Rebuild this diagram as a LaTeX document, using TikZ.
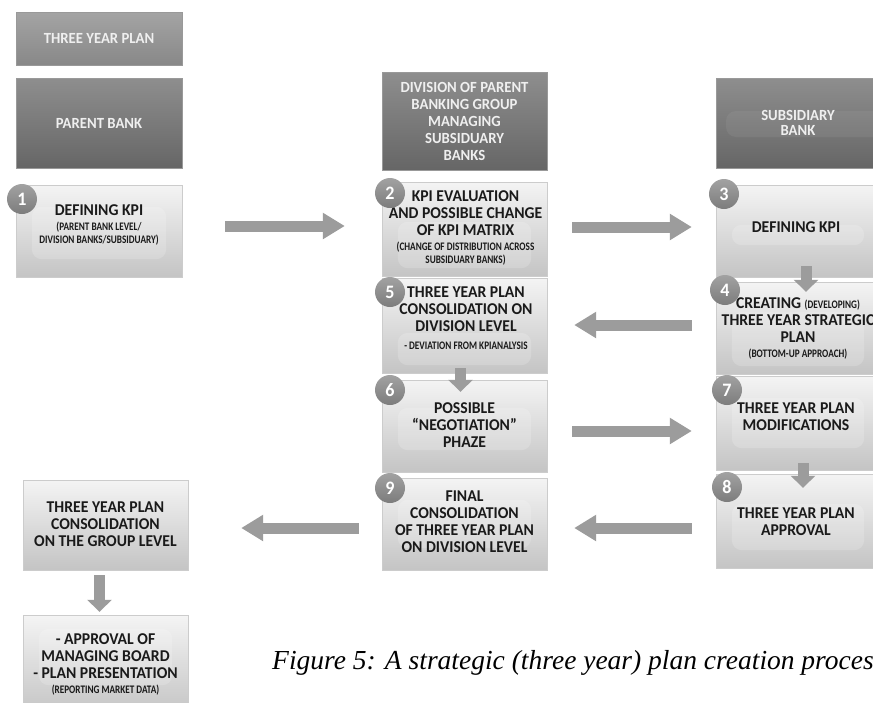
\documentclass[tikz,border=0pt]{standalone}
\usepackage{fontspec}
\setmainfont[FakeStretch=0.95]{Carlito}
\newfontfamily\capfont{Liberation Serif}
\newfontfamily\narrowfont[FakeStretch=0.8]{Carlito}
\usetikzlibrary{arrows.meta,calc}

\definecolor{hdrtop}{HTML}{8E8E8E}
\definecolor{hdrbot}{HTML}{666666}
\definecolor{titletop}{HTML}{A4A4A4}
\definecolor{titlebot}{HTML}{888888}
\definecolor{boxtop}{HTML}{F4F4F4}
\definecolor{boxbot}{HTML}{C4C4C4}
\definecolor{badgetop}{HTML}{A2A2A2}
\definecolor{badgebot}{HTML}{7C7C7C}
\definecolor{arrowgray}{HTML}{9C9C9C}
\definecolor{inkdark}{HTML}{1A1A1A}
\definecolor{hdrtext}{HTML}{EFEFEF}

\newcommand\sm{\narrowfont\bfseries\fontsize{11.5}{13}\selectfont}
\newcommand\mainsize{\bfseries\fontsize{16.5}{17}\selectfont}

\tikzset{
  hdrbox/.style={rectangle, inner sep=0pt, top color=hdrtop, bottom color=hdrbot,
    draw=black!40, line width=0.4pt},
  titlebox/.style={hdrbox, top color=titletop, bottom color=titlebot},
  stepbox/.style={rectangle, inner sep=0pt, top color=boxtop, bottom color=boxbot,
    draw=black!20, line width=0.4pt},
  hdrtxt/.style={inner sep=0pt, align=center, text=hdrtext, font=\bfseries\fontsize{15.5}{17}\selectfont},
  steptxt/.style={inner sep=0pt, align=center, text=inkdark, font=\mainsize},
  glowfill/.style={fill=white, opacity=0.18, rounded corners=10pt},
  badgenode/.style={circle, minimum size=30pt, inner sep=0pt, top color=badgetop,
    bottom color=badgebot, text=white, font=\bfseries\fontsize{19}{19}\selectfont},
  bigarrow/.style={draw=arrowgray, color=arrowgray, line width=11pt,
    -{Triangle[length=22pt,width=25pt]}},
  downarrow/.style={draw=arrowgray, color=arrowgray, line width=11pt,
    -{Triangle[length=12pt,width=24pt]}},
}

% soft lighter band inside a box
\newcommand\glow[3]{\fill[glowfill] ($(#1.north west)+(16,#2)$) rectangle ($(#1.south east)+(-16,-#3)$);}

\begin{document}
\begin{tikzpicture}[x=1pt,y=-1pt]
\useasboundingbox (0,0) rectangle (873,702);
\fill[white] (0,0) rectangle (873,702);
\clip (0,0) rectangle (873,702);

% ---------- column: parent bank ----------
\node[titlebox, minimum width=166pt, minimum height=53pt] (hA) at (99,38.5) {};
\node[hdrtxt] (hA-t) at (hA) {THREE YEAR PLAN};
\node[hdrbox, minimum width=166pt, minimum height=90pt] (hB) at (99,123) {};
\node[hdrtxt] (hB-t) at (hB) {PARENT BANK};

\node[stepbox, minimum width=166pt, minimum height=92pt] (n1) at (99,231) {};
\glow{n1}{22}{18}
\node[steptxt] (n1-t) at (99,225) {DEFINING KPI\\[-2pt]{\sm (PARENT BANK LEVEL/}\\[-4pt]{\sm DIVISION BANKS/SUBSIDUARY)}};

% ---------- column: division of parent banking group ----------
\node[hdrbox, minimum width=165pt, minimum height=98pt] (hC) at (464.5,121) {};
\node[hdrtxt] (hC-t) at (hC) {DIVISION OF PARENT\\BANKING GROUP\\MANAGING\\SUBSIDUARY\\BANKS};

\node[stepbox, minimum width=165pt, minimum height=94pt] (n2) at (464.5,229) {};
\glow{n2}{40}{8}
\node[steptxt] (n2-t) at (465.5,228) {KPI EVALUATION\\AND POSSIBLE CHANGE\\OF KPI MATRIX\\[-2pt]{\sm (CHANGE OF DISTRIBUTION ACROSS}\\[-4pt]{\sm SUBSIDUARY BANKS)}};

\node[stepbox, minimum width=165pt, minimum height=95pt] (n5) at (464.5,325.5) {};
\glow{n5}{55}{8}
\node[steptxt] (n5-t) at (466,318) {THREE YEAR PLAN\\CONSOLIDATION ON\\DIVISION LEVEL\\[1pt]{\sm - DEVIATION FROM KPIANALYSIS}};

\node[stepbox, minimum width=165pt, minimum height=92pt] (n6) at (464.5,426) {};
\glow{n6}{28}{22}
\node[steptxt] (n6-t) at (464.5,425) {POSSIBLE\\``NEGOTIATION''\\PHAZE};

\node[stepbox, minimum width=165pt, minimum height=92pt] (n9) at (464.5,524) {};
\glow{n9}{22}{22}
\node[steptxt] (n9-t) at (464.5,522) {FINAL\\CONSOLIDATION\\OF THREE YEAR PLAN\\ON DIVISION LEVEL};

% ---------- column: subsidiary bank ----------
\node[hdrbox, minimum width=164pt, minimum height=90pt] (hD) at (798,123) {};
\fill[white, opacity=0.06, rounded corners=10pt] (726,111) rectangle (890,137);
\node[hdrtxt, font=\bfseries\fontsize{15.5}{15}\selectfont] (hD-t) at (798,123) {SUBSIDIARY\\BANK};

\node[stepbox, minimum width=164pt, minimum height=92pt] (n3) at (798,231) {};
\glow{n3}{40}{32}
\node[steptxt] (n3-t) at (796,227) {DEFINING KPI};

\node[stepbox, minimum width=164pt, minimum height=92pt] (n4) at (798,328) {};
\glow{n4}{30}{8}
\node[steptxt] (n4-t) at (798,328) {CREATING {\sm (DEVELOPING)}\\THREE YEAR STRATEGIC\\PLAN\\[-2pt]{\sm (BOTTOM-UP APPROACH)}};

\node[stepbox, minimum width=164pt, minimum height=94pt] (n7) at (798,423) {};
\glow{n7}{22}{22}
\node[steptxt] (n7-t) at (796,417) {THREE YEAR PLAN\\MODIFICATIONS};

\node[stepbox, minimum width=164pt, minimum height=94pt] (n8) at (798,521) {};
\glow{n8}{30}{18}
\node[steptxt] (n8-t) at (796,522) {THREE YEAR PLAN\\APPROVAL};

% ---------- group level ----------
\node[stepbox, minimum width=165pt, minimum height=90pt] (ng) at (105.5,525) {};
\node[steptxt] (ng-t) at (105.5,524) {THREE YEAR PLAN\\CONSOLIDATION\\ON THE GROUP LEVEL};

\node[stepbox, minimum width=165pt, minimum height=100pt] (nb) at (105.5,665) {};
\glow{nb}{14}{30}
\node[steptxt] (nb-t) at (105.5,664) {- APPROVAL OF\\MANAGING BOARD\\- PLAN PRESENTATION\\[-2pt]{\sm (REPORTING MARKET DATA)}};

% ---------- step numbers ----------
\node[badgenode] (b1) at (22,199) {1};
\node[badgenode] (b2) at (390,193) {2};
\node[badgenode] (b3) at (724,194) {3};
\node[badgenode] (b4) at (725,290) {4};
\node[badgenode] (b5) at (390,292) {5};
\node[badgenode] (b6) at (390,390) {6};
\node[badgenode] (b7) at (727,390) {7};
\node[badgenode] (b8) at (727,487) {8};
\node[badgenode] (b9) at (390,488) {9};

% ---------- flow arrows ----------
\draw[bigarrow, shorten <=43pt, shorten >=37pt] ([yshift=5pt]n1.east) -- ([yshift=5pt]n1.east -| n2.west);
\draw[bigarrow, shorten <=25pt, shorten >=24pt] ([yshift=2pt]n2.east) -- ([yshift=2pt]n2.east -| n3.west);
\draw[bigarrow, shorten <=24pt, shorten >=27pt] ([yshift=3pt]n4.west) -- ([yshift=3pt]n4.west -| n5.east);
\draw[bigarrow, shorten <=25pt, shorten >=24pt] ([yshift=-5pt]n6.east) -- ([yshift=-5pt]n6.east -| n7.west);
\draw[bigarrow, shorten <=24pt, shorten >=27pt] ([yshift=-7pt]n8.west) -- ([yshift=-7pt]n8.west -| n9.east);
\draw[bigarrow, shorten <=23pt, shorten >=53pt] ([yshift=-4pt]n9.west) -- ([yshift=-4pt]n9.west -| ng.east);

\draw[downarrow] ([xshift=8pt,yshift=11pt]n3.south) -- ([xshift=8pt,yshift=-10pt]n4.north);
\draw[downarrow] ([xshift=-4pt,yshift=5pt]n5.south) -- ([xshift=-4pt,yshift=-12pt]n6.north);
\draw[downarrow] ([xshift=5pt,yshift=7pt]n7.south) -- ([xshift=5pt,yshift=-14pt]n8.north);
\draw[downarrow] ([xshift=-6pt,yshift=-5pt]ng.south) -- ([xshift=-6pt,yshift=3pt]nb.north);

% ---------- caption ----------
\node[anchor=base west, inner sep=0pt, font=\capfont\itshape\fontsize{27.5}{30}\selectfont] (cap) at (272,669)
  {Figure 5: A strategic (three year) plan creation process};
\end{tikzpicture}
\end{document}
